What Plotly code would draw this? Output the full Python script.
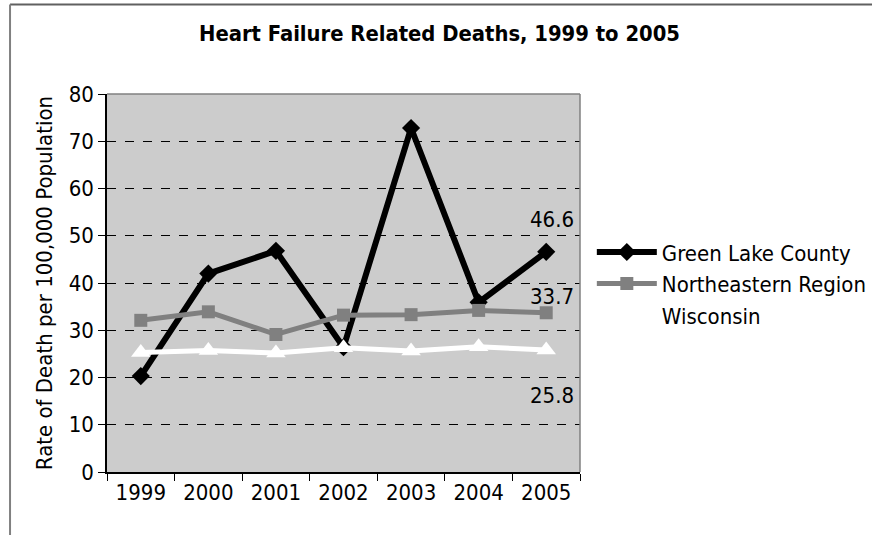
import plotly.graph_objects as go

years = ["1999", "2000", "2001", "2002", "2003", "2004", "2005"]
green_lake = [20.3, 42.0, 46.8, 26.4, 72.8, 35.9, 46.6]
northeastern = [32.1, 33.9, 29.1, 33.2, 33.3, 34.2, 33.7]
wisconsin = [25.3, 25.7, 25.2, 26.3, 25.6, 26.5, 25.8]

FONT = "DejaVu Sans Condensed, DejaVu Sans"
SIZE = 22

fig = go.Figure()
fig.add_trace(go.Scatter(
    x=years, y=green_lake, name="Green Lake County", mode="lines+markers",
    line=dict(color="black", width=6),
    marker=dict(symbol="diamond", size=14, color="black"),
))
fig.add_trace(go.Scatter(
    x=years, y=northeastern, name="Northeastern Region", mode="lines+markers",
    line=dict(color="#808080", width=5),
    marker=dict(symbol="square", size=13, color="#808080"),
))
fig.add_trace(go.Scatter(
    x=years, y=wisconsin, name="Wisconsin", mode="lines+markers",
    line=dict(color="white", width=5),
    marker=dict(symbol="triangle-up", size=17, color="white"),
))

# value labels on the final year (category index of the last year)
last_idx = len(years) - 1
for vals, shift in [(green_lake, 32), (northeastern, 16), (wisconsin, -45)]:
    fig.add_annotation(
        x=last_idx, y=vals[-1], text=f"{vals[-1]:.1f}", showarrow=False,
        xshift=6, yshift=shift, font=dict(family=FONT, size=SIZE, color="black"),
    )

# plot-area top/right edges and the outer chart frame
fig.add_shape(type="line", xref="paper", yref="paper", x0=0, x1=1, y0=1, y1=1,
              line=dict(color="#808080", width=1.5))
fig.add_shape(type="line", xref="paper", yref="paper", x0=1, x1=1, y0=0, y1=1,
              line=dict(color="#808080", width=1.5))
fig.add_shape(type="line", xref="paper", yref="paper", x0=-0.205, x1=1.7,
              y0=1.237, y1=1.237, line=dict(color="#606060", width=2))
fig.add_shape(type="line", xref="paper", yref="paper", x0=-0.205, x1=-0.205,
              y0=-0.3, y1=1.237, line=dict(color="#808080", width=2))

fig.update_layout(
    width=872, height=535,
    margin=dict(l=107, r=292, t=94, b=63, autoexpand=False),
    paper_bgcolor="white", plot_bgcolor="#cccccc",
    font=dict(family=FONT, size=SIZE, color="black"),
    title=dict(text="<b>Heart Failure Related Deaths, 1999 to 2005</b>",
               x=0.504, xref="container", xanchor="center",
               y=0.938, yanchor="middle",
               font=dict(family=FONT, size=21.8, color="black")),
    showlegend=True,
    legend=dict(x=1.025, y=0.637, xanchor="left", yanchor="top",
                bgcolor="rgba(0,0,0,0)", itemwidth=60, tracegroupgap=0,
                font=dict(family=FONT, size=SIZE, color="black")),
)
fig.update_xaxes(
    type="category", range=[-0.5, 6.5], tickson="boundaries",
    ticks="outside", ticklen=7, tickcolor="black",
    showline=True, linecolor="black", linewidth=1.5,
    showgrid=False, zeroline=False,
)
fig.update_yaxes(
    range=[0, 80], dtick=10, ticks="outside", ticklen=7, tickcolor="black",
    showline=True, linecolor="black", linewidth=1.5,
    showgrid=True, gridcolor="black", griddash="dash", gridwidth=1,
    zeroline=False,
    title=dict(text="Rate of Death per 100,000 Population", standoff=10,
               font=dict(family=FONT, size=SIZE)),
)

fig.write_html("out.html")
